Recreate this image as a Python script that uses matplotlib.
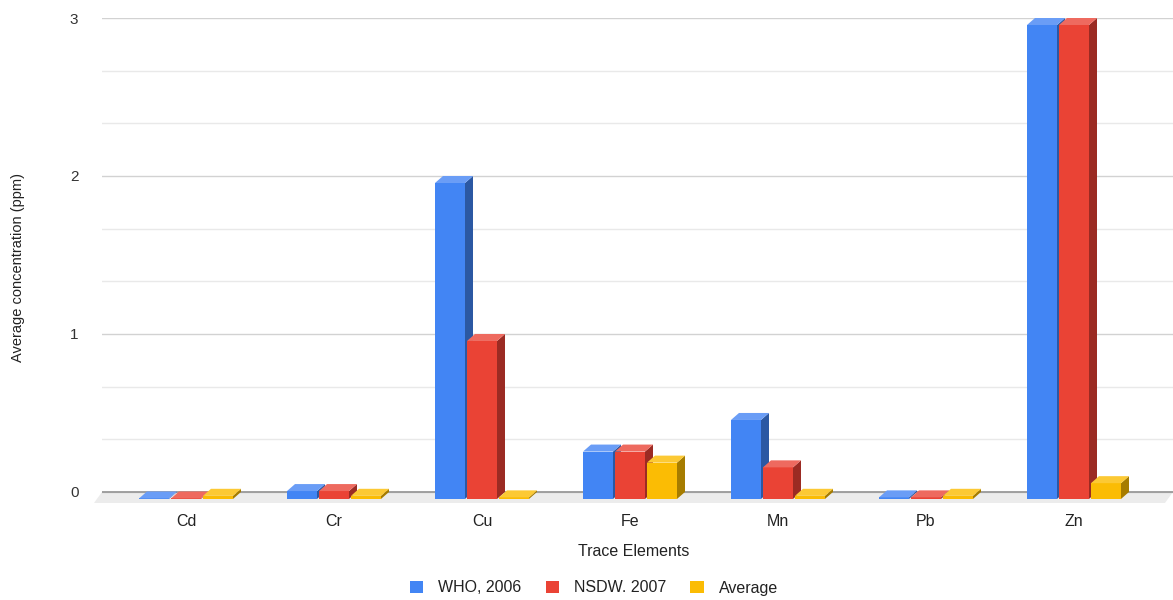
import numpy as np
import matplotlib.pyplot as plt
from matplotlib.patches import Polygon, Patch

plt.rcParams['font.family'] = ['Liberation Sans', 'DejaVu Sans']

# data (ppm)
elements = ['Cd', 'Cr', 'Cu', 'Fe', 'Mn', 'Pb', 'Zn']
who_2006 = [0.003, 0.05, 2.0, 0.3, 0.5, 0.01, 3.0]
nsdw_2007 = [0.003, 0.05, 1.0, 0.3, 0.2, 0.01, 3.0]
average = [0.02, 0.02, 0.01, 0.23, 0.02, 0.02, 0.1]
series_names = ['WHO, 2006', 'NSDW. 2007', 'Average']

# front / top / side colours for the fake 3d look
front_cols = ['#4285f4', '#ea4335', '#fbbc04']
top_cols = ['#6a9df6', '#ee6a5f', '#fcc934']
side_cols = ['#2b58a3', '#9b2b23', '#a67c00']

W, H = 1173, 600
fig = plt.figure(figsize=(W / 100, H / 100), dpi=100)
ax_left, ax_right = 102, 1173
ax_top, ax_bot = 18, 504.6
ax = fig.add_axes([ax_left / W, (H - ax_bot) / H, (ax_right - ax_left) / W, (ax_bot - ax_top) / H])

ax.set_xlim((ax_left - 186) / 148, (ax_right - 186) / 148)
ax.set_ylim(-0.08, 3)
for s in ax.spines.values():
    s.set_visible(False)

ax.set_yticks([0, 1, 2, 3])
ax.set_yticks(np.arange(0, 3.01, 1 / 3), minor=True)
ax.grid(which='major', axis='y', color='#d2d2d2', lw=1)
ax.grid(which='minor', axis='y', color='#e9e9e9', lw=1)
ax.tick_params(which='both', length=0)
ax.tick_params(axis='y', pad=17, labelsize=11, labelcolor='#333333')
ax.tick_params(axis='x', pad=7, labelsize=11.5, labelcolor='#222222')
ax.set_xticks(range(len(elements)))
ax.set_xticklabels(elements)

# pixel offsets converted to data units
inv = ax.transData.inverted()
p0 = inv.transform((0, 0))
p1 = inv.transform((8, 7))
dx, dy = p1 - p0
floor_d = inv.transform((0, 11))[1] - p0[1]

w = 30 / 148
step = 32 / 148

xl = ax.get_xlim()
ax.add_patch(Polygon([(xl[0], 0), (xl[1], 0), (xl[1] - dx, -floor_d), (xl[0] - dx, -floor_d)],
                     closed=True, facecolor='#ececec', edgecolor='none', zorder=1, clip_on=False))
ax.axhline(0, color='#9a9a9a', lw=1.3, zorder=2)

series = [who_2006, nsdw_2007, average]
z = 3
for i in range(len(elements)):
    for k, vals in enumerate(series):
        v = vals[i]
        x0 = i + (k - 1) * step - w / 2
        x1 = x0 + w
        front = Polygon([(x0, -dy), (x1, -dy), (x1, v - dy), (x0, v - dy)],
                        facecolor=front_cols[k], edgecolor='none', zorder=z, clip_on=False)
        side = Polygon([(x1, -dy), (x1 + dx, 0), (x1 + dx, v), (x1, v - dy)],
                       facecolor=side_cols[k], edgecolor='none', zorder=z, clip_on=False)
        top = Polygon([(x0, v - dy), (x0 + dx, v), (x1 + dx, v), (x1, v - dy)],
                      facecolor=top_cols[k], edgecolor='none', zorder=z, clip_on=False)
        for p in (side, front, top):
            ax.add_patch(p)
        z += 0.01

fig.text(634 / W, 1 - 551 / H, 'Trace Elements', ha='center', va='center', fontsize=11.5, color='#222222')
fig.text(18 / W, 1 - 268 / H, 'Average concentration (ppm)', ha='center', va='center',
         rotation=90, fontsize=10.5, color='#222222')

handles = [Patch(facecolor=front_cols[k], edgecolor='none', label=series_names[k]) for k in range(3)]
fig.legend(handles=handles, loc='center', bbox_to_anchor=(594 / W, 1 - 588 / H), ncol=3,
           frameon=False, fontsize=11.5, handlelength=0.85, handleheight=0.85, columnspacing=1.5,
           handletextpad=0.95, labelcolor='#222222')

fig.savefig('out.png', dpi=100)
